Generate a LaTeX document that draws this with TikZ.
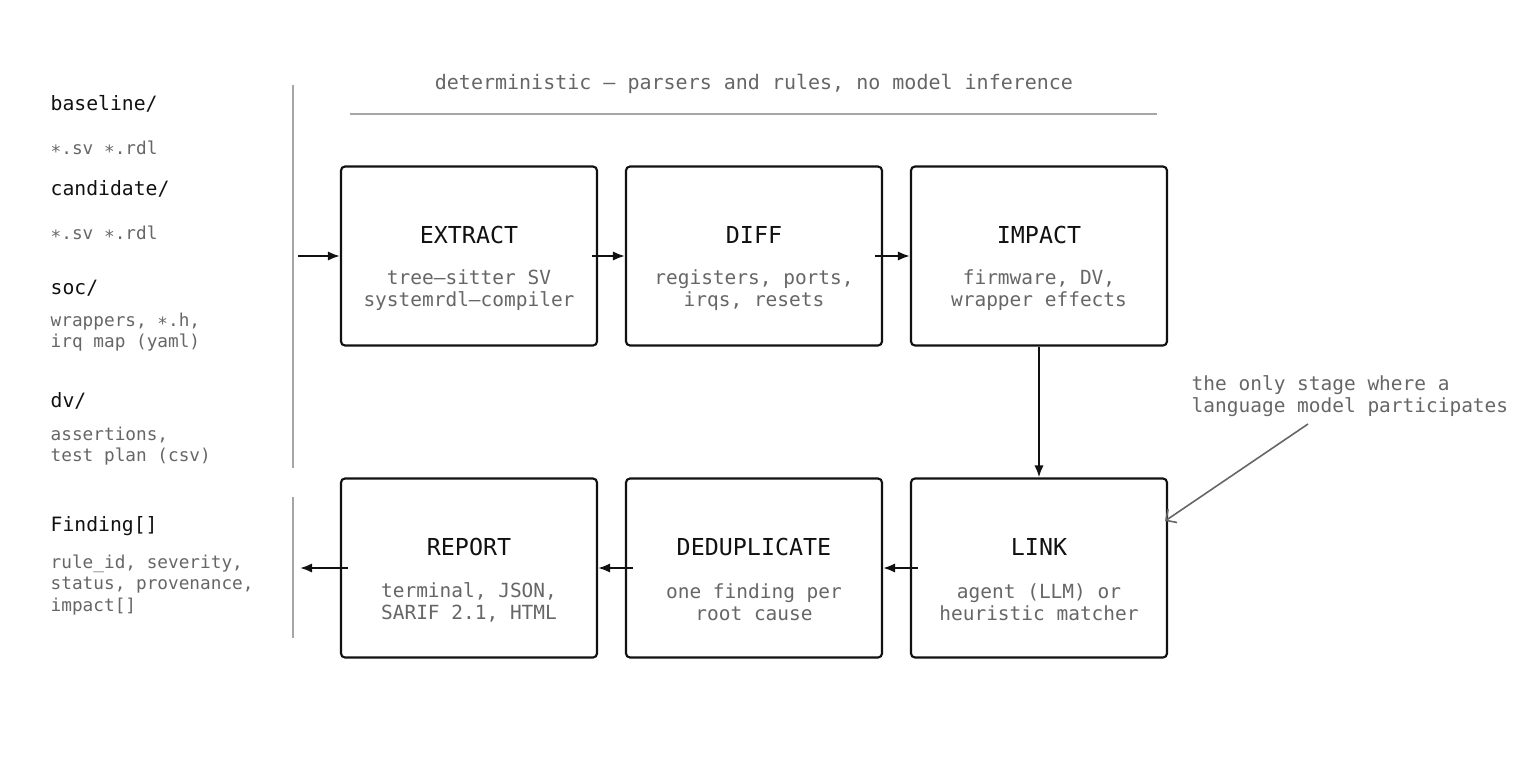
\documentclass[tikz,border=0pt]{standalone}
\usepackage{fontspec}
\setmainfont{DejaVu Sans Mono}
\usetikzlibrary{arrows.meta}
\definecolor{tg}{HTML}{666666}
\definecolor{dk}{HTML}{111111}
\begin{document}
\begin{tikzpicture}[x=0.75pt,y=-0.75pt,
 box/.style={draw=dk,line width=1.6pt,rounded corners=3pt,minimum width=256*0.75pt,minimum height=179*0.75pt,inner sep=0},
 ttl/.style={text=dk,font=\fontsize{17.5}{20}\selectfont},
 sub/.style={text=tg,font=\fontsize{14.6}{16.5}\selectfont,align=center},
 lab/.style={anchor=west,text=dk,font=\fontsize{14.8}{17}\selectfont},
 lsub/.style={anchor=west,text=tg,font=\fontsize{13.3}{16}\selectfont,align=left},
 arr/.style={-{Latex[length=9pt,width=7pt]},draw=dk,line width=1.6pt},
 vl/.style={draw=black!35,line width=1.3pt}]
\useasboundingbox (0,0) rectangle (1539,768);
\node[text=tg,font=\fontsize{15}{18}\selectfont] (hdr) at (754,84) {deterministic — parsers and rules, no model inference};
\coordinate (h1) at (350,114); \coordinate (h2) at (1157,114);
\draw[vl] (h1) -- (h2);
\coordinate (v1) at (293,85); \coordinate (v2) at (293,468);
\coordinate (v3) at (293,497); \coordinate (v4) at (293,638);
\draw[vl] (v1)--(v2); \draw[vl] (v3)--(v4);
\node[lab] (l1) at (46,104) {baseline/};
\node[lsub] (l2) at (46,148) {∗.sv ∗.rdl};
\node[lab] (l3) at (46,189) {candidate/};
\node[lsub] (l4) at (46,233) {∗.sv ∗.rdl};
\node[lab] (l5) at (46,288) {soc/};
\node[lsub] (l6) at (46,332) {wrappers, ∗.h,\\irq map (yaml)};
\node[lab] (l7) at (46,401) {dv/};
\node[lsub] (l8) at (46,446) {assertions,\\test plan (csv)};
\node[lab] (l9) at (46,526) {Finding[]};
\node[lsub] (l10) at (46,585) {rule\_id, severity,\\status, provenance,\\impact[]};
\foreach \n/\x/\y/\t/\s in {ex/469/256/EXTRACT/{tree–sitter SV\\systemrdl–compiler},
 df/754/256/DIFF/{registers, ports,\\irqs, resets},
 im/1039/256/IMPACT/{firmware, DV,\\wrapper effects},
 rp/469/568/REPORT/{terminal, JSON,\\SARIF 2.1, HTML},
 dd/754/568/DEDUPLICATE/{one finding per\\root cause},
 lk/1039/568/LINK/{agent (LLM) or\\heuristic matcher}}{
 \node[box] (\n) at (\x,\y) {};
 \node[ttl] (\n t) at (\x,\y-21) {\t};
 \node[sub] (\n s) at (\x,\y+34) {\s};
}
\coordinate (in) at (298,256); \coordinate (out) at (300,568);
\draw[arr] (in) -- (ex.west);
\draw[arr] (ex.east) ++(-6,0) -- (df.west);
\draw[arr] ([xshift=-6]df.east) -- (im.west);
\draw[arr] (im.south) -- (lk.north);
\draw[arr] ([xshift=6]lk.west) -- (dd.east);
\draw[arr] ([xshift=6]dd.west) -- (rp.east);
\draw[arr] ([xshift=6]rp.west) -- (out);
\node[anchor=west,text=tg,font=\fontsize{14.6}{16.5}\selectfont,align=left] (note) at (1187,396) {the only stage where a\\language model participates};
\coordinate (na) at (1308,424);
\draw[-{Straight Barb[length=6pt]},draw=tg,line width=1.2pt] (na) -- (1165,521);
\end{tikzpicture}
\end{document}
